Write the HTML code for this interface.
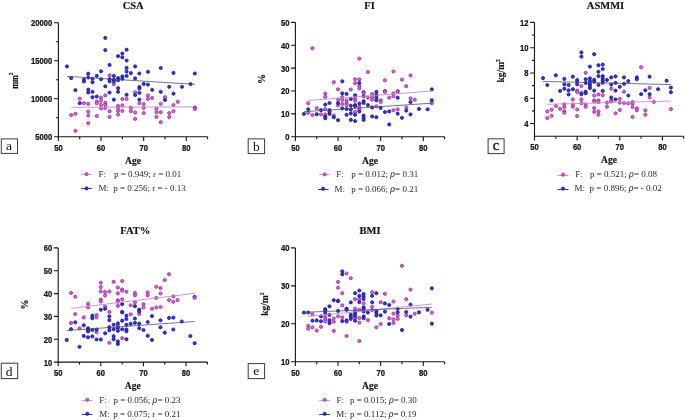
<!DOCTYPE html><html><head><meta charset="utf-8"><style>html,body{margin:0;padding:0;background:#fff;}svg{display:block;filter:blur(0.3px)}.tl{font-family:"Liberation Sans",sans-serif;font-weight:bold;font-size:8.3px;fill:#111;stroke:#111;stroke-width:0.22px}.ti{font-family:"Liberation Serif",serif;font-weight:bold;font-size:10.5px;fill:#111;stroke:#111;stroke-width:0.15px}.lg{font-family:"Liberation Serif",serif;font-size:9px;fill:#2a2a2a}.bx{font-family:"Liberation Serif",serif;font-size:13.5px;fill:#111}</style></head><body><svg width="685" height="420" viewBox="0 0 685 420"><circle cx="109.56" cy="75.30" r="1.6" fill="#e05ee0" stroke="#8e2a8e" stroke-width="0.75"/><circle cx="113.82" cy="84.30" r="1.6" fill="#e05ee0" stroke="#8e2a8e" stroke-width="0.75"/><circle cx="79.72" cy="98.70" r="1.6" fill="#e05ee0" stroke="#8e2a8e" stroke-width="0.75"/><circle cx="83.98" cy="103.20" r="1.6" fill="#e05ee0" stroke="#8e2a8e" stroke-width="0.75"/><circle cx="88.24" cy="103.80" r="1.6" fill="#e05ee0" stroke="#8e2a8e" stroke-width="0.75"/><circle cx="101.03" cy="97.60" r="1.6" fill="#e05ee0" stroke="#8e2a8e" stroke-width="0.75"/><circle cx="105.29" cy="95.40" r="1.6" fill="#e05ee0" stroke="#8e2a8e" stroke-width="0.75"/><circle cx="96.77" cy="101.60" r="1.6" fill="#e05ee0" stroke="#8e2a8e" stroke-width="0.75"/><circle cx="96.77" cy="103.20" r="1.6" fill="#e05ee0" stroke="#8e2a8e" stroke-width="0.75"/><circle cx="101.03" cy="100.60" r="1.6" fill="#e05ee0" stroke="#8e2a8e" stroke-width="0.75"/><circle cx="101.03" cy="104.90" r="1.6" fill="#e05ee0" stroke="#8e2a8e" stroke-width="0.75"/><circle cx="101.03" cy="108.40" r="1.6" fill="#e05ee0" stroke="#8e2a8e" stroke-width="0.75"/><circle cx="105.29" cy="102.70" r="1.6" fill="#e05ee0" stroke="#8e2a8e" stroke-width="0.75"/><circle cx="105.29" cy="104.90" r="1.6" fill="#e05ee0" stroke="#8e2a8e" stroke-width="0.75"/><circle cx="105.29" cy="107.90" r="1.6" fill="#e05ee0" stroke="#8e2a8e" stroke-width="0.75"/><circle cx="122.34" cy="99.00" r="1.6" fill="#e05ee0" stroke="#8e2a8e" stroke-width="0.75"/><circle cx="126.61" cy="98.90" r="1.6" fill="#e05ee0" stroke="#8e2a8e" stroke-width="0.75"/><circle cx="96.77" cy="116.00" r="1.6" fill="#e05ee0" stroke="#8e2a8e" stroke-width="0.75"/><circle cx="71.19" cy="115.00" r="1.6" fill="#e05ee0" stroke="#8e2a8e" stroke-width="0.75"/><circle cx="75.45" cy="113.80" r="1.6" fill="#e05ee0" stroke="#8e2a8e" stroke-width="0.75"/><circle cx="75.45" cy="130.90" r="1.6" fill="#e05ee0" stroke="#8e2a8e" stroke-width="0.75"/><circle cx="88.24" cy="111.60" r="1.6" fill="#e05ee0" stroke="#8e2a8e" stroke-width="0.75"/><circle cx="88.24" cy="115.50" r="1.6" fill="#e05ee0" stroke="#8e2a8e" stroke-width="0.75"/><circle cx="88.24" cy="123.20" r="1.6" fill="#e05ee0" stroke="#8e2a8e" stroke-width="0.75"/><circle cx="109.56" cy="111.20" r="1.6" fill="#e05ee0" stroke="#8e2a8e" stroke-width="0.75"/><circle cx="109.56" cy="116.90" r="1.6" fill="#e05ee0" stroke="#8e2a8e" stroke-width="0.75"/><circle cx="118.08" cy="106.00" r="1.6" fill="#e05ee0" stroke="#8e2a8e" stroke-width="0.75"/><circle cx="118.08" cy="107.90" r="1.6" fill="#e05ee0" stroke="#8e2a8e" stroke-width="0.75"/><circle cx="118.08" cy="110.90" r="1.6" fill="#e05ee0" stroke="#8e2a8e" stroke-width="0.75"/><circle cx="118.08" cy="114.50" r="1.6" fill="#e05ee0" stroke="#8e2a8e" stroke-width="0.75"/><circle cx="122.34" cy="105.40" r="1.6" fill="#e05ee0" stroke="#8e2a8e" stroke-width="0.75"/><circle cx="122.34" cy="110.90" r="1.6" fill="#e05ee0" stroke="#8e2a8e" stroke-width="0.75"/><circle cx="130.87" cy="107.60" r="1.6" fill="#e05ee0" stroke="#8e2a8e" stroke-width="0.75"/><circle cx="130.87" cy="111.20" r="1.6" fill="#e05ee0" stroke="#8e2a8e" stroke-width="0.75"/><circle cx="135.13" cy="92.30" r="1.6" fill="#e05ee0" stroke="#8e2a8e" stroke-width="0.75"/><circle cx="147.92" cy="95.40" r="1.6" fill="#e05ee0" stroke="#8e2a8e" stroke-width="0.75"/><circle cx="147.92" cy="99.00" r="1.6" fill="#e05ee0" stroke="#8e2a8e" stroke-width="0.75"/><circle cx="152.19" cy="98.00" r="1.6" fill="#e05ee0" stroke="#8e2a8e" stroke-width="0.75"/><circle cx="164.97" cy="97.20" r="1.6" fill="#e05ee0" stroke="#8e2a8e" stroke-width="0.75"/><circle cx="177.76" cy="101.80" r="1.6" fill="#e05ee0" stroke="#8e2a8e" stroke-width="0.75"/><circle cx="139.40" cy="103.10" r="1.6" fill="#e05ee0" stroke="#8e2a8e" stroke-width="0.75"/><circle cx="143.66" cy="104.00" r="1.6" fill="#e05ee0" stroke="#8e2a8e" stroke-width="0.75"/><circle cx="160.71" cy="103.80" r="1.6" fill="#e05ee0" stroke="#8e2a8e" stroke-width="0.75"/><circle cx="173.50" cy="105.00" r="1.6" fill="#e05ee0" stroke="#8e2a8e" stroke-width="0.75"/><circle cx="135.13" cy="112.50" r="1.6" fill="#e05ee0" stroke="#8e2a8e" stroke-width="0.75"/><circle cx="135.13" cy="118.90" r="1.6" fill="#e05ee0" stroke="#8e2a8e" stroke-width="0.75"/><circle cx="143.66" cy="107.90" r="1.6" fill="#e05ee0" stroke="#8e2a8e" stroke-width="0.75"/><circle cx="143.66" cy="113.10" r="1.6" fill="#e05ee0" stroke="#8e2a8e" stroke-width="0.75"/><circle cx="156.45" cy="108.70" r="1.6" fill="#e05ee0" stroke="#8e2a8e" stroke-width="0.75"/><circle cx="156.45" cy="112.20" r="1.6" fill="#e05ee0" stroke="#8e2a8e" stroke-width="0.75"/><circle cx="156.45" cy="116.90" r="1.6" fill="#e05ee0" stroke="#8e2a8e" stroke-width="0.75"/><circle cx="160.71" cy="112.30" r="1.6" fill="#e05ee0" stroke="#8e2a8e" stroke-width="0.75"/><circle cx="160.71" cy="122.20" r="1.6" fill="#e05ee0" stroke="#8e2a8e" stroke-width="0.75"/><circle cx="169.24" cy="113.10" r="1.6" fill="#e05ee0" stroke="#8e2a8e" stroke-width="0.75"/><circle cx="169.24" cy="117.10" r="1.6" fill="#e05ee0" stroke="#8e2a8e" stroke-width="0.75"/><circle cx="173.50" cy="111.20" r="1.6" fill="#e05ee0" stroke="#8e2a8e" stroke-width="0.75"/><circle cx="105.29" cy="37.90" r="1.6" fill="#3434e4" stroke="#16167a" stroke-width="0.75"/><circle cx="105.29" cy="50.10" r="1.6" fill="#3434e4" stroke="#16167a" stroke-width="0.75"/><circle cx="126.61" cy="49.70" r="1.6" fill="#3434e4" stroke="#16167a" stroke-width="0.75"/><circle cx="118.08" cy="56.10" r="1.6" fill="#3434e4" stroke="#16167a" stroke-width="0.75"/><circle cx="122.34" cy="53.50" r="1.6" fill="#3434e4" stroke="#16167a" stroke-width="0.75"/><circle cx="122.34" cy="57.30" r="1.6" fill="#3434e4" stroke="#16167a" stroke-width="0.75"/><circle cx="126.61" cy="60.50" r="1.6" fill="#3434e4" stroke="#16167a" stroke-width="0.75"/><circle cx="109.56" cy="64.90" r="1.6" fill="#3434e4" stroke="#16167a" stroke-width="0.75"/><circle cx="66.93" cy="66.40" r="1.6" fill="#3434e4" stroke="#16167a" stroke-width="0.75"/><circle cx="101.03" cy="71.30" r="1.6" fill="#3434e4" stroke="#16167a" stroke-width="0.75"/><circle cx="126.61" cy="67.90" r="1.6" fill="#3434e4" stroke="#16167a" stroke-width="0.75"/><circle cx="126.61" cy="71.50" r="1.6" fill="#3434e4" stroke="#16167a" stroke-width="0.75"/><circle cx="88.24" cy="73.70" r="1.6" fill="#3434e4" stroke="#16167a" stroke-width="0.75"/><circle cx="130.87" cy="73.10" r="1.6" fill="#3434e4" stroke="#16167a" stroke-width="0.75"/><circle cx="71.19" cy="78.10" r="1.6" fill="#3434e4" stroke="#16167a" stroke-width="0.75"/><circle cx="75.45" cy="90.10" r="1.6" fill="#3434e4" stroke="#16167a" stroke-width="0.75"/><circle cx="83.98" cy="79.50" r="1.6" fill="#3434e4" stroke="#16167a" stroke-width="0.75"/><circle cx="83.98" cy="81.50" r="1.6" fill="#3434e4" stroke="#16167a" stroke-width="0.75"/><circle cx="88.24" cy="77.50" r="1.6" fill="#3434e4" stroke="#16167a" stroke-width="0.75"/><circle cx="88.24" cy="89.60" r="1.6" fill="#3434e4" stroke="#16167a" stroke-width="0.75"/><circle cx="88.24" cy="92.50" r="1.6" fill="#3434e4" stroke="#16167a" stroke-width="0.75"/><circle cx="92.50" cy="78.80" r="1.6" fill="#3434e4" stroke="#16167a" stroke-width="0.75"/><circle cx="92.50" cy="82.20" r="1.6" fill="#3434e4" stroke="#16167a" stroke-width="0.75"/><circle cx="92.50" cy="91.80" r="1.6" fill="#3434e4" stroke="#16167a" stroke-width="0.75"/><circle cx="92.50" cy="97.20" r="1.6" fill="#3434e4" stroke="#16167a" stroke-width="0.75"/><circle cx="96.77" cy="75.90" r="1.6" fill="#3434e4" stroke="#16167a" stroke-width="0.75"/><circle cx="96.77" cy="96.50" r="1.6" fill="#3434e4" stroke="#16167a" stroke-width="0.75"/><circle cx="101.03" cy="79.20" r="1.6" fill="#3434e4" stroke="#16167a" stroke-width="0.75"/><circle cx="105.29" cy="86.30" r="1.6" fill="#3434e4" stroke="#16167a" stroke-width="0.75"/><circle cx="109.56" cy="79.20" r="1.6" fill="#3434e4" stroke="#16167a" stroke-width="0.75"/><circle cx="109.56" cy="81.40" r="1.6" fill="#3434e4" stroke="#16167a" stroke-width="0.75"/><circle cx="109.56" cy="92.60" r="1.6" fill="#3434e4" stroke="#16167a" stroke-width="0.75"/><circle cx="113.82" cy="75.90" r="1.6" fill="#3434e4" stroke="#16167a" stroke-width="0.75"/><circle cx="113.82" cy="79.70" r="1.6" fill="#3434e4" stroke="#16167a" stroke-width="0.75"/><circle cx="113.82" cy="81.40" r="1.6" fill="#3434e4" stroke="#16167a" stroke-width="0.75"/><circle cx="113.82" cy="99.70" r="1.6" fill="#3434e4" stroke="#16167a" stroke-width="0.75"/><circle cx="118.08" cy="78.10" r="1.6" fill="#3434e4" stroke="#16167a" stroke-width="0.75"/><circle cx="118.08" cy="80.30" r="1.6" fill="#3434e4" stroke="#16167a" stroke-width="0.75"/><circle cx="118.08" cy="88.20" r="1.6" fill="#3434e4" stroke="#16167a" stroke-width="0.75"/><circle cx="118.08" cy="91.80" r="1.6" fill="#3434e4" stroke="#16167a" stroke-width="0.75"/><circle cx="122.34" cy="76.40" r="1.6" fill="#3434e4" stroke="#16167a" stroke-width="0.75"/><circle cx="122.34" cy="78.80" r="1.6" fill="#3434e4" stroke="#16167a" stroke-width="0.75"/><circle cx="126.61" cy="75.90" r="1.6" fill="#3434e4" stroke="#16167a" stroke-width="0.75"/><circle cx="126.61" cy="94.80" r="1.6" fill="#3434e4" stroke="#16167a" stroke-width="0.75"/><circle cx="79.72" cy="103.20" r="1.6" fill="#3434e4" stroke="#16167a" stroke-width="0.75"/><circle cx="135.13" cy="66.40" r="1.6" fill="#3434e4" stroke="#16167a" stroke-width="0.75"/><circle cx="135.13" cy="78.40" r="1.6" fill="#3434e4" stroke="#16167a" stroke-width="0.75"/><circle cx="139.40" cy="73.50" r="1.6" fill="#3434e4" stroke="#16167a" stroke-width="0.75"/><circle cx="139.40" cy="87.00" r="1.6" fill="#3434e4" stroke="#16167a" stroke-width="0.75"/><circle cx="139.40" cy="88.50" r="1.6" fill="#3434e4" stroke="#16167a" stroke-width="0.75"/><circle cx="139.40" cy="92.80" r="1.6" fill="#3434e4" stroke="#16167a" stroke-width="0.75"/><circle cx="139.40" cy="99.60" r="1.6" fill="#3434e4" stroke="#16167a" stroke-width="0.75"/><circle cx="135.13" cy="95.00" r="1.6" fill="#3434e4" stroke="#16167a" stroke-width="0.75"/><circle cx="143.66" cy="83.90" r="1.6" fill="#3434e4" stroke="#16167a" stroke-width="0.75"/><circle cx="147.92" cy="71.80" r="1.6" fill="#3434e4" stroke="#16167a" stroke-width="0.75"/><circle cx="147.92" cy="84.60" r="1.6" fill="#3434e4" stroke="#16167a" stroke-width="0.75"/><circle cx="152.19" cy="89.80" r="1.6" fill="#3434e4" stroke="#16167a" stroke-width="0.75"/><circle cx="160.71" cy="68.00" r="1.6" fill="#3434e4" stroke="#16167a" stroke-width="0.75"/><circle cx="160.71" cy="91.80" r="1.6" fill="#3434e4" stroke="#16167a" stroke-width="0.75"/><circle cx="164.97" cy="100.00" r="1.6" fill="#3434e4" stroke="#16167a" stroke-width="0.75"/><circle cx="169.24" cy="86.80" r="1.6" fill="#3434e4" stroke="#16167a" stroke-width="0.75"/><circle cx="173.50" cy="72.90" r="1.6" fill="#3434e4" stroke="#16167a" stroke-width="0.75"/><circle cx="173.50" cy="93.70" r="1.6" fill="#3434e4" stroke="#16167a" stroke-width="0.75"/><circle cx="182.03" cy="86.80" r="1.6" fill="#3434e4" stroke="#16167a" stroke-width="0.75"/><circle cx="190.55" cy="84.10" r="1.6" fill="#3434e4" stroke="#16167a" stroke-width="0.75"/><circle cx="194.82" cy="73.50" r="1.6" fill="#3434e4" stroke="#16167a" stroke-width="0.75"/><circle cx="194.82" cy="107.60" r="1.6" fill="#3434e4" stroke="#16167a" stroke-width="0.75"/><circle cx="194.82" cy="109.00" r="1.6" fill="#e05ee0" stroke="#8e2a8e" stroke-width="0.75"/><line x1="71.19" y1="107.3" x2="194.82" y2="106.9" stroke="#c98ac9" stroke-width="0.9"/><line x1="66.93" y1="76.4" x2="194.82" y2="84.3" stroke="#45456f" stroke-width="0.75"/><path d="M58.40 22.70V136.70H207.60" fill="none" stroke="#141414" stroke-width="1.1"/><text class="tl" transform="translate(52.30,140.20) scale(0.92,1)" text-anchor="end">5000</text><text class="tl" transform="translate(52.30,102.20) scale(0.92,1)" text-anchor="end">10000</text><text class="tl" transform="translate(52.30,64.20) scale(0.92,1)" text-anchor="end">15000</text><text class="tl" transform="translate(52.30,26.20) scale(0.92,1)" text-anchor="end">20000</text><text class="tl" transform="translate(58.40,150.50) scale(0.92,1)" text-anchor="middle">50</text><text class="tl" transform="translate(101.03,150.50) scale(0.92,1)" text-anchor="middle">60</text><text class="tl" transform="translate(143.66,150.50) scale(0.92,1)" text-anchor="middle">70</text><text class="tl" transform="translate(186.29,150.50) scale(0.92,1)" text-anchor="middle">80</text><path d="M54.10 136.70H58.40M55.90 117.70H58.40M54.10 98.70H58.40M55.90 79.70H58.40M54.10 60.70H58.40M55.90 41.70H58.40M54.10 22.70H58.40M58.40 136.70V140.90M79.72 136.70V139.20M101.03 136.70V140.90M122.34 136.70V139.20M143.66 136.70V140.90M164.97 136.70V139.20M186.29 136.70V140.90M207.60 136.70V139.20" fill="none" stroke="#141414" stroke-width="1.1"/><text class="ti" x="133.2" y="8.9" text-anchor="middle">CSA</text><text class="ti" x="133.00" y="163.70" text-anchor="middle" style="font-size:9.6px">Age</text><rect x="1.30" y="138.90" width="16.20" height="14.50" fill="none" stroke="#3a3a3a" stroke-width="1"/><text class="bx" x="8.90" y="149.90" text-anchor="middle">a</text><circle cx="312.45" cy="48.20" r="1.6" fill="#e05ee0" stroke="#8e2a8e" stroke-width="0.75"/><circle cx="359.34" cy="58.60" r="1.6" fill="#e05ee0" stroke="#8e2a8e" stroke-width="0.75"/><circle cx="367.87" cy="72.00" r="1.6" fill="#e05ee0" stroke="#8e2a8e" stroke-width="0.75"/><circle cx="333.77" cy="82.20" r="1.6" fill="#e05ee0" stroke="#8e2a8e" stroke-width="0.75"/><circle cx="355.08" cy="79.30" r="1.6" fill="#e05ee0" stroke="#8e2a8e" stroke-width="0.75"/><circle cx="355.08" cy="83.20" r="1.6" fill="#e05ee0" stroke="#8e2a8e" stroke-width="0.75"/><circle cx="359.34" cy="79.30" r="1.6" fill="#e05ee0" stroke="#8e2a8e" stroke-width="0.75"/><circle cx="359.34" cy="85.90" r="1.6" fill="#e05ee0" stroke="#8e2a8e" stroke-width="0.75"/><circle cx="359.34" cy="88.40" r="1.6" fill="#e05ee0" stroke="#8e2a8e" stroke-width="0.75"/><circle cx="338.03" cy="89.30" r="1.6" fill="#e05ee0" stroke="#8e2a8e" stroke-width="0.75"/><circle cx="350.82" cy="89.50" r="1.6" fill="#e05ee0" stroke="#8e2a8e" stroke-width="0.75"/><circle cx="325.24" cy="93.50" r="1.6" fill="#e05ee0" stroke="#8e2a8e" stroke-width="0.75"/><circle cx="325.24" cy="96.80" r="1.6" fill="#e05ee0" stroke="#8e2a8e" stroke-width="0.75"/><circle cx="367.87" cy="97.70" r="1.6" fill="#e05ee0" stroke="#8e2a8e" stroke-width="0.75"/><circle cx="342.29" cy="97.20" r="1.6" fill="#e05ee0" stroke="#8e2a8e" stroke-width="0.75"/><circle cx="338.03" cy="99.50" r="1.6" fill="#e05ee0" stroke="#8e2a8e" stroke-width="0.75"/><circle cx="355.08" cy="98.30" r="1.6" fill="#e05ee0" stroke="#8e2a8e" stroke-width="0.75"/><circle cx="308.19" cy="103.30" r="1.6" fill="#e05ee0" stroke="#8e2a8e" stroke-width="0.75"/><circle cx="308.19" cy="112.80" r="1.6" fill="#e05ee0" stroke="#8e2a8e" stroke-width="0.75"/><circle cx="312.45" cy="115.00" r="1.6" fill="#e05ee0" stroke="#8e2a8e" stroke-width="0.75"/><circle cx="316.71" cy="108.20" r="1.6" fill="#e05ee0" stroke="#8e2a8e" stroke-width="0.75"/><circle cx="320.98" cy="114.40" r="1.6" fill="#e05ee0" stroke="#8e2a8e" stroke-width="0.75"/><circle cx="325.24" cy="109.00" r="1.6" fill="#e05ee0" stroke="#8e2a8e" stroke-width="0.75"/><circle cx="325.24" cy="114.40" r="1.6" fill="#e05ee0" stroke="#8e2a8e" stroke-width="0.75"/><circle cx="333.77" cy="115.50" r="1.6" fill="#e05ee0" stroke="#8e2a8e" stroke-width="0.75"/><circle cx="338.03" cy="105.40" r="1.6" fill="#e05ee0" stroke="#8e2a8e" stroke-width="0.75"/><circle cx="342.29" cy="99.90" r="1.6" fill="#e05ee0" stroke="#8e2a8e" stroke-width="0.75"/><circle cx="342.29" cy="104.00" r="1.6" fill="#e05ee0" stroke="#8e2a8e" stroke-width="0.75"/><circle cx="346.56" cy="100.50" r="1.6" fill="#e05ee0" stroke="#8e2a8e" stroke-width="0.75"/><circle cx="346.56" cy="103.00" r="1.6" fill="#e05ee0" stroke="#8e2a8e" stroke-width="0.75"/><circle cx="346.56" cy="105.10" r="1.6" fill="#e05ee0" stroke="#8e2a8e" stroke-width="0.75"/><circle cx="355.08" cy="100.80" r="1.6" fill="#e05ee0" stroke="#8e2a8e" stroke-width="0.75"/><circle cx="355.08" cy="111.90" r="1.6" fill="#e05ee0" stroke="#8e2a8e" stroke-width="0.75"/><circle cx="359.34" cy="106.80" r="1.6" fill="#e05ee0" stroke="#8e2a8e" stroke-width="0.75"/><circle cx="359.34" cy="109.50" r="1.6" fill="#e05ee0" stroke="#8e2a8e" stroke-width="0.75"/><circle cx="393.45" cy="71.50" r="1.6" fill="#e05ee0" stroke="#8e2a8e" stroke-width="0.75"/><circle cx="384.92" cy="80.30" r="1.6" fill="#e05ee0" stroke="#8e2a8e" stroke-width="0.75"/><circle cx="401.97" cy="79.60" r="1.6" fill="#e05ee0" stroke="#8e2a8e" stroke-width="0.75"/><circle cx="410.50" cy="75.40" r="1.6" fill="#e05ee0" stroke="#8e2a8e" stroke-width="0.75"/><circle cx="406.24" cy="86.20" r="1.6" fill="#e05ee0" stroke="#8e2a8e" stroke-width="0.75"/><circle cx="372.13" cy="94.00" r="1.6" fill="#e05ee0" stroke="#8e2a8e" stroke-width="0.75"/><circle cx="372.13" cy="97.00" r="1.6" fill="#e05ee0" stroke="#8e2a8e" stroke-width="0.75"/><circle cx="372.13" cy="99.70" r="1.6" fill="#e05ee0" stroke="#8e2a8e" stroke-width="0.75"/><circle cx="376.40" cy="106.30" r="1.6" fill="#e05ee0" stroke="#8e2a8e" stroke-width="0.75"/><circle cx="380.66" cy="100.30" r="1.6" fill="#e05ee0" stroke="#8e2a8e" stroke-width="0.75"/><circle cx="380.66" cy="101.90" r="1.6" fill="#e05ee0" stroke="#8e2a8e" stroke-width="0.75"/><circle cx="389.19" cy="97.70" r="1.6" fill="#e05ee0" stroke="#8e2a8e" stroke-width="0.75"/><circle cx="393.45" cy="93.40" r="1.6" fill="#e05ee0" stroke="#8e2a8e" stroke-width="0.75"/><circle cx="393.45" cy="96.20" r="1.6" fill="#e05ee0" stroke="#8e2a8e" stroke-width="0.75"/><circle cx="393.45" cy="110.20" r="1.6" fill="#e05ee0" stroke="#8e2a8e" stroke-width="0.75"/><circle cx="397.71" cy="109.30" r="1.6" fill="#e05ee0" stroke="#8e2a8e" stroke-width="0.75"/><circle cx="406.24" cy="107.60" r="1.6" fill="#e05ee0" stroke="#8e2a8e" stroke-width="0.75"/><circle cx="410.50" cy="98.40" r="1.6" fill="#e05ee0" stroke="#8e2a8e" stroke-width="0.75"/><circle cx="414.76" cy="99.70" r="1.6" fill="#e05ee0" stroke="#8e2a8e" stroke-width="0.75"/><circle cx="431.82" cy="103.20" r="1.6" fill="#e05ee0" stroke="#8e2a8e" stroke-width="0.75"/><circle cx="342.29" cy="81.30" r="1.6" fill="#3434e4" stroke="#16167a" stroke-width="0.75"/><circle cx="359.34" cy="82.90" r="1.6" fill="#3434e4" stroke="#16167a" stroke-width="0.75"/><circle cx="342.29" cy="93.40" r="1.6" fill="#3434e4" stroke="#16167a" stroke-width="0.75"/><circle cx="346.56" cy="93.90" r="1.6" fill="#3434e4" stroke="#16167a" stroke-width="0.75"/><circle cx="355.08" cy="95.30" r="1.6" fill="#3434e4" stroke="#16167a" stroke-width="0.75"/><circle cx="363.61" cy="92.20" r="1.6" fill="#3434e4" stroke="#16167a" stroke-width="0.75"/><circle cx="363.61" cy="96.10" r="1.6" fill="#3434e4" stroke="#16167a" stroke-width="0.75"/><circle cx="350.82" cy="98.90" r="1.6" fill="#3434e4" stroke="#16167a" stroke-width="0.75"/><circle cx="363.61" cy="101.20" r="1.6" fill="#3434e4" stroke="#16167a" stroke-width="0.75"/><circle cx="303.93" cy="113.90" r="1.6" fill="#3434e4" stroke="#16167a" stroke-width="0.75"/><circle cx="308.19" cy="109.30" r="1.6" fill="#3434e4" stroke="#16167a" stroke-width="0.75"/><circle cx="316.71" cy="114.20" r="1.6" fill="#3434e4" stroke="#16167a" stroke-width="0.75"/><circle cx="320.98" cy="110.10" r="1.6" fill="#3434e4" stroke="#16167a" stroke-width="0.75"/><circle cx="325.24" cy="104.60" r="1.6" fill="#3434e4" stroke="#16167a" stroke-width="0.75"/><circle cx="325.24" cy="116.60" r="1.6" fill="#3434e4" stroke="#16167a" stroke-width="0.75"/><circle cx="325.24" cy="118.30" r="1.6" fill="#3434e4" stroke="#16167a" stroke-width="0.75"/><circle cx="329.50" cy="103.00" r="1.6" fill="#3434e4" stroke="#16167a" stroke-width="0.75"/><circle cx="329.50" cy="110.10" r="1.6" fill="#3434e4" stroke="#16167a" stroke-width="0.75"/><circle cx="329.50" cy="111.70" r="1.6" fill="#3434e4" stroke="#16167a" stroke-width="0.75"/><circle cx="329.50" cy="113.90" r="1.6" fill="#3434e4" stroke="#16167a" stroke-width="0.75"/><circle cx="333.77" cy="117.20" r="1.6" fill="#3434e4" stroke="#16167a" stroke-width="0.75"/><circle cx="338.03" cy="103.00" r="1.6" fill="#3434e4" stroke="#16167a" stroke-width="0.75"/><circle cx="338.03" cy="120.20" r="1.6" fill="#3434e4" stroke="#16167a" stroke-width="0.75"/><circle cx="342.29" cy="108.40" r="1.6" fill="#3434e4" stroke="#16167a" stroke-width="0.75"/><circle cx="346.56" cy="109.00" r="1.6" fill="#3434e4" stroke="#16167a" stroke-width="0.75"/><circle cx="346.56" cy="114.80" r="1.6" fill="#3434e4" stroke="#16167a" stroke-width="0.75"/><circle cx="350.82" cy="105.70" r="1.6" fill="#3434e4" stroke="#16167a" stroke-width="0.75"/><circle cx="350.82" cy="109.50" r="1.6" fill="#3434e4" stroke="#16167a" stroke-width="0.75"/><circle cx="350.82" cy="113.40" r="1.6" fill="#3434e4" stroke="#16167a" stroke-width="0.75"/><circle cx="350.82" cy="119.90" r="1.6" fill="#3434e4" stroke="#16167a" stroke-width="0.75"/><circle cx="355.08" cy="105.10" r="1.6" fill="#3434e4" stroke="#16167a" stroke-width="0.75"/><circle cx="355.08" cy="106.20" r="1.6" fill="#3434e4" stroke="#16167a" stroke-width="0.75"/><circle cx="355.08" cy="114.80" r="1.6" fill="#3434e4" stroke="#16167a" stroke-width="0.75"/><circle cx="355.08" cy="121.00" r="1.6" fill="#3434e4" stroke="#16167a" stroke-width="0.75"/><circle cx="359.34" cy="103.50" r="1.6" fill="#3434e4" stroke="#16167a" stroke-width="0.75"/><circle cx="359.34" cy="111.50" r="1.6" fill="#3434e4" stroke="#16167a" stroke-width="0.75"/><circle cx="363.61" cy="103.00" r="1.6" fill="#3434e4" stroke="#16167a" stroke-width="0.75"/><circle cx="363.61" cy="115.50" r="1.6" fill="#3434e4" stroke="#16167a" stroke-width="0.75"/><circle cx="363.61" cy="117.70" r="1.6" fill="#3434e4" stroke="#16167a" stroke-width="0.75"/><circle cx="363.61" cy="119.90" r="1.6" fill="#3434e4" stroke="#16167a" stroke-width="0.75"/><circle cx="367.87" cy="105.10" r="1.6" fill="#3434e4" stroke="#16167a" stroke-width="0.75"/><circle cx="372.13" cy="107.40" r="1.6" fill="#3434e4" stroke="#16167a" stroke-width="0.75"/><circle cx="372.13" cy="116.40" r="1.6" fill="#3434e4" stroke="#16167a" stroke-width="0.75"/><circle cx="376.40" cy="91.80" r="1.6" fill="#3434e4" stroke="#16167a" stroke-width="0.75"/><circle cx="376.40" cy="94.80" r="1.6" fill="#3434e4" stroke="#16167a" stroke-width="0.75"/><circle cx="376.40" cy="97.50" r="1.6" fill="#3434e4" stroke="#16167a" stroke-width="0.75"/><circle cx="376.40" cy="100.30" r="1.6" fill="#3434e4" stroke="#16167a" stroke-width="0.75"/><circle cx="376.40" cy="117.20" r="1.6" fill="#3434e4" stroke="#16167a" stroke-width="0.75"/><circle cx="380.66" cy="107.90" r="1.6" fill="#3434e4" stroke="#16167a" stroke-width="0.75"/><circle cx="384.92" cy="112.00" r="1.6" fill="#3434e4" stroke="#16167a" stroke-width="0.75"/><circle cx="389.19" cy="111.40" r="1.6" fill="#3434e4" stroke="#16167a" stroke-width="0.75"/><circle cx="389.19" cy="124.40" r="1.6" fill="#3434e4" stroke="#16167a" stroke-width="0.75"/><circle cx="397.71" cy="97.70" r="1.6" fill="#3434e4" stroke="#16167a" stroke-width="0.75"/><circle cx="397.71" cy="113.70" r="1.6" fill="#3434e4" stroke="#16167a" stroke-width="0.75"/><circle cx="401.97" cy="117.80" r="1.6" fill="#3434e4" stroke="#16167a" stroke-width="0.75"/><circle cx="406.24" cy="110.60" r="1.6" fill="#3434e4" stroke="#16167a" stroke-width="0.75"/><circle cx="410.50" cy="102.10" r="1.6" fill="#3434e4" stroke="#16167a" stroke-width="0.75"/><circle cx="410.50" cy="114.40" r="1.6" fill="#3434e4" stroke="#16167a" stroke-width="0.75"/><circle cx="419.03" cy="108.90" r="1.6" fill="#3434e4" stroke="#16167a" stroke-width="0.75"/><circle cx="427.55" cy="109.30" r="1.6" fill="#3434e4" stroke="#16167a" stroke-width="0.75"/><circle cx="431.82" cy="89.30" r="1.6" fill="#3434e4" stroke="#16167a" stroke-width="0.75"/><circle cx="431.82" cy="100.30" r="1.6" fill="#3434e4" stroke="#16167a" stroke-width="0.75"/><circle cx="384.92" cy="91.20" r="1.6" fill="#3434e4" stroke="#16167a" stroke-width="0.75"/><circle cx="397.71" cy="91.30" r="1.6" fill="#3434e4" stroke="#16167a" stroke-width="0.75"/><circle cx="363.61" cy="93.10" r="1.6" fill="#e05ee0" stroke="#8e2a8e" stroke-width="0.75"/><circle cx="384.92" cy="91.80" r="1.6" fill="#e05ee0" stroke="#8e2a8e" stroke-width="0.75"/><circle cx="397.71" cy="91.80" r="1.6" fill="#e05ee0" stroke="#8e2a8e" stroke-width="0.75"/><line x1="308.19" y1="100.5" x2="431.82" y2="91.0" stroke="#c98ac9" stroke-width="0.9"/><line x1="303.93" y1="111.7" x2="431.82" y2="103.2" stroke="#45456f" stroke-width="0.75"/><path d="M295.40 22.40V136.70H444.60" fill="none" stroke="#141414" stroke-width="1.1"/><text class="tl" transform="translate(289.50,140.20) scale(0.92,1)" text-anchor="end">0</text><text class="tl" transform="translate(289.50,117.34) scale(0.92,1)" text-anchor="end">10</text><text class="tl" transform="translate(289.50,94.48) scale(0.92,1)" text-anchor="end">20</text><text class="tl" transform="translate(289.50,71.62) scale(0.92,1)" text-anchor="end">30</text><text class="tl" transform="translate(289.50,48.76) scale(0.92,1)" text-anchor="end">40</text><text class="tl" transform="translate(289.50,25.90) scale(0.92,1)" text-anchor="end">50</text><text class="tl" transform="translate(295.40,150.50) scale(0.92,1)" text-anchor="middle">50</text><text class="tl" transform="translate(338.03,150.50) scale(0.92,1)" text-anchor="middle">60</text><text class="tl" transform="translate(380.66,150.50) scale(0.92,1)" text-anchor="middle">70</text><text class="tl" transform="translate(423.29,150.50) scale(0.92,1)" text-anchor="middle">80</text><path d="M291.10 136.70H295.40M291.10 113.84H295.40M291.10 90.98H295.40M291.10 68.12H295.40M291.10 45.26H295.40M291.10 22.40H295.40M295.40 136.70V140.90M316.71 136.70V139.20M338.03 136.70V140.90M359.34 136.70V139.20M380.66 136.70V140.90M401.97 136.70V139.20M423.29 136.70V140.90M444.60 136.70V139.20" fill="none" stroke="#141414" stroke-width="1.1"/><text class="ti" x="369.6" y="8.9" text-anchor="middle">FI</text><text class="ti" x="370.00" y="163.70" text-anchor="middle" style="font-size:9.6px">Age</text><rect x="248.20" y="138.90" width="16.40" height="14.70" fill="none" stroke="#3a3a3a" stroke-width="1"/><text class="bx" x="256.40" y="151.30" text-anchor="middle">b</text><circle cx="585.66" cy="72.80" r="1.6" fill="#e05ee0" stroke="#8e2a8e" stroke-width="0.75"/><circle cx="577.13" cy="81.60" r="1.6" fill="#e05ee0" stroke="#8e2a8e" stroke-width="0.75"/><circle cx="581.39" cy="86.00" r="1.6" fill="#e05ee0" stroke="#8e2a8e" stroke-width="0.75"/><circle cx="547.29" cy="111.40" r="1.6" fill="#e05ee0" stroke="#8e2a8e" stroke-width="0.75"/><circle cx="547.29" cy="118.00" r="1.6" fill="#e05ee0" stroke="#8e2a8e" stroke-width="0.75"/><circle cx="551.55" cy="109.80" r="1.6" fill="#e05ee0" stroke="#8e2a8e" stroke-width="0.75"/><circle cx="551.55" cy="115.80" r="1.6" fill="#e05ee0" stroke="#8e2a8e" stroke-width="0.75"/><circle cx="555.82" cy="105.90" r="1.6" fill="#e05ee0" stroke="#8e2a8e" stroke-width="0.75"/><circle cx="560.08" cy="108.90" r="1.6" fill="#e05ee0" stroke="#8e2a8e" stroke-width="0.75"/><circle cx="564.34" cy="104.30" r="1.6" fill="#e05ee0" stroke="#8e2a8e" stroke-width="0.75"/><circle cx="564.34" cy="107.00" r="1.6" fill="#e05ee0" stroke="#8e2a8e" stroke-width="0.75"/><circle cx="564.34" cy="111.20" r="1.6" fill="#e05ee0" stroke="#8e2a8e" stroke-width="0.75"/><circle cx="564.34" cy="112.70" r="1.6" fill="#e05ee0" stroke="#8e2a8e" stroke-width="0.75"/><circle cx="572.87" cy="99.40" r="1.6" fill="#e05ee0" stroke="#8e2a8e" stroke-width="0.75"/><circle cx="572.87" cy="104.50" r="1.6" fill="#e05ee0" stroke="#8e2a8e" stroke-width="0.75"/><circle cx="572.87" cy="106.70" r="1.6" fill="#e05ee0" stroke="#8e2a8e" stroke-width="0.75"/><circle cx="577.13" cy="90.60" r="1.6" fill="#e05ee0" stroke="#8e2a8e" stroke-width="0.75"/><circle cx="577.13" cy="92.00" r="1.6" fill="#e05ee0" stroke="#8e2a8e" stroke-width="0.75"/><circle cx="577.13" cy="109.50" r="1.6" fill="#e05ee0" stroke="#8e2a8e" stroke-width="0.75"/><circle cx="577.13" cy="116.10" r="1.6" fill="#e05ee0" stroke="#8e2a8e" stroke-width="0.75"/><circle cx="581.39" cy="92.80" r="1.6" fill="#e05ee0" stroke="#8e2a8e" stroke-width="0.75"/><circle cx="581.39" cy="99.40" r="1.6" fill="#e05ee0" stroke="#8e2a8e" stroke-width="0.75"/><circle cx="581.39" cy="103.20" r="1.6" fill="#e05ee0" stroke="#8e2a8e" stroke-width="0.75"/><circle cx="585.66" cy="104.40" r="1.6" fill="#e05ee0" stroke="#8e2a8e" stroke-width="0.75"/><circle cx="585.66" cy="106.70" r="1.6" fill="#e05ee0" stroke="#8e2a8e" stroke-width="0.75"/><circle cx="594.18" cy="95.50" r="1.6" fill="#e05ee0" stroke="#8e2a8e" stroke-width="0.75"/><circle cx="594.18" cy="100.40" r="1.6" fill="#e05ee0" stroke="#8e2a8e" stroke-width="0.75"/><circle cx="594.18" cy="101.50" r="1.6" fill="#e05ee0" stroke="#8e2a8e" stroke-width="0.75"/><circle cx="594.18" cy="108.10" r="1.6" fill="#e05ee0" stroke="#8e2a8e" stroke-width="0.75"/><circle cx="594.18" cy="111.90" r="1.6" fill="#e05ee0" stroke="#8e2a8e" stroke-width="0.75"/><circle cx="598.45" cy="94.40" r="1.6" fill="#e05ee0" stroke="#8e2a8e" stroke-width="0.75"/><circle cx="598.45" cy="100.40" r="1.6" fill="#e05ee0" stroke="#8e2a8e" stroke-width="0.75"/><circle cx="598.45" cy="102.10" r="1.6" fill="#e05ee0" stroke="#8e2a8e" stroke-width="0.75"/><circle cx="598.45" cy="111.40" r="1.6" fill="#e05ee0" stroke="#8e2a8e" stroke-width="0.75"/><circle cx="598.45" cy="114.70" r="1.6" fill="#e05ee0" stroke="#8e2a8e" stroke-width="0.75"/><circle cx="602.71" cy="95.30" r="1.6" fill="#e05ee0" stroke="#8e2a8e" stroke-width="0.75"/><circle cx="606.97" cy="102.60" r="1.6" fill="#e05ee0" stroke="#8e2a8e" stroke-width="0.75"/><circle cx="606.97" cy="106.70" r="1.6" fill="#e05ee0" stroke="#8e2a8e" stroke-width="0.75"/><circle cx="641.08" cy="67.20" r="1.6" fill="#e05ee0" stroke="#8e2a8e" stroke-width="0.75"/><circle cx="611.23" cy="88.70" r="1.6" fill="#e05ee0" stroke="#8e2a8e" stroke-width="0.75"/><circle cx="611.23" cy="100.40" r="1.6" fill="#e05ee0" stroke="#8e2a8e" stroke-width="0.75"/><circle cx="611.23" cy="101.50" r="1.6" fill="#e05ee0" stroke="#8e2a8e" stroke-width="0.75"/><circle cx="615.50" cy="113.30" r="1.6" fill="#e05ee0" stroke="#8e2a8e" stroke-width="0.75"/><circle cx="619.76" cy="98.80" r="1.6" fill="#e05ee0" stroke="#8e2a8e" stroke-width="0.75"/><circle cx="619.76" cy="102.60" r="1.6" fill="#e05ee0" stroke="#8e2a8e" stroke-width="0.75"/><circle cx="619.76" cy="110.00" r="1.6" fill="#e05ee0" stroke="#8e2a8e" stroke-width="0.75"/><circle cx="624.02" cy="91.70" r="1.6" fill="#e05ee0" stroke="#8e2a8e" stroke-width="0.75"/><circle cx="624.02" cy="103.00" r="1.6" fill="#e05ee0" stroke="#8e2a8e" stroke-width="0.75"/><circle cx="628.29" cy="103.40" r="1.6" fill="#e05ee0" stroke="#8e2a8e" stroke-width="0.75"/><circle cx="632.55" cy="102.10" r="1.6" fill="#e05ee0" stroke="#8e2a8e" stroke-width="0.75"/><circle cx="632.55" cy="103.70" r="1.6" fill="#e05ee0" stroke="#8e2a8e" stroke-width="0.75"/><circle cx="632.55" cy="107.00" r="1.6" fill="#e05ee0" stroke="#8e2a8e" stroke-width="0.75"/><circle cx="632.55" cy="116.90" r="1.6" fill="#e05ee0" stroke="#8e2a8e" stroke-width="0.75"/><circle cx="636.81" cy="108.40" r="1.6" fill="#e05ee0" stroke="#8e2a8e" stroke-width="0.75"/><circle cx="636.81" cy="110.30" r="1.6" fill="#e05ee0" stroke="#8e2a8e" stroke-width="0.75"/><circle cx="645.34" cy="110.30" r="1.6" fill="#e05ee0" stroke="#8e2a8e" stroke-width="0.75"/><circle cx="645.34" cy="114.70" r="1.6" fill="#e05ee0" stroke="#8e2a8e" stroke-width="0.75"/><circle cx="649.60" cy="87.90" r="1.6" fill="#e05ee0" stroke="#8e2a8e" stroke-width="0.75"/><circle cx="649.60" cy="97.50" r="1.6" fill="#e05ee0" stroke="#8e2a8e" stroke-width="0.75"/><circle cx="653.86" cy="101.90" r="1.6" fill="#e05ee0" stroke="#8e2a8e" stroke-width="0.75"/><circle cx="670.92" cy="109.20" r="1.6" fill="#e05ee0" stroke="#8e2a8e" stroke-width="0.75"/><circle cx="543.03" cy="78.10" r="1.6" fill="#3434e4" stroke="#16167a" stroke-width="0.75"/><circle cx="547.29" cy="85.00" r="1.6" fill="#3434e4" stroke="#16167a" stroke-width="0.75"/><circle cx="555.82" cy="75.30" r="1.6" fill="#3434e4" stroke="#16167a" stroke-width="0.75"/><circle cx="564.34" cy="78.90" r="1.6" fill="#3434e4" stroke="#16167a" stroke-width="0.75"/><circle cx="564.34" cy="84.30" r="1.6" fill="#3434e4" stroke="#16167a" stroke-width="0.75"/><circle cx="568.60" cy="85.00" r="1.6" fill="#3434e4" stroke="#16167a" stroke-width="0.75"/><circle cx="572.87" cy="76.70" r="1.6" fill="#3434e4" stroke="#16167a" stroke-width="0.75"/><circle cx="577.13" cy="80.00" r="1.6" fill="#3434e4" stroke="#16167a" stroke-width="0.75"/><circle cx="577.13" cy="84.30" r="1.6" fill="#3434e4" stroke="#16167a" stroke-width="0.75"/><circle cx="581.39" cy="52.40" r="1.6" fill="#3434e4" stroke="#16167a" stroke-width="0.75"/><circle cx="581.39" cy="56.60" r="1.6" fill="#3434e4" stroke="#16167a" stroke-width="0.75"/><circle cx="585.66" cy="79.20" r="1.6" fill="#3434e4" stroke="#16167a" stroke-width="0.75"/><circle cx="585.66" cy="82.90" r="1.6" fill="#3434e4" stroke="#16167a" stroke-width="0.75"/><circle cx="589.92" cy="66.60" r="1.6" fill="#3434e4" stroke="#16167a" stroke-width="0.75"/><circle cx="589.92" cy="78.30" r="1.6" fill="#3434e4" stroke="#16167a" stroke-width="0.75"/><circle cx="589.92" cy="81.10" r="1.6" fill="#3434e4" stroke="#16167a" stroke-width="0.75"/><circle cx="589.92" cy="83.80" r="1.6" fill="#3434e4" stroke="#16167a" stroke-width="0.75"/><circle cx="589.92" cy="85.70" r="1.6" fill="#3434e4" stroke="#16167a" stroke-width="0.75"/><circle cx="589.92" cy="88.10" r="1.6" fill="#3434e4" stroke="#16167a" stroke-width="0.75"/><circle cx="594.18" cy="54.20" r="1.6" fill="#3434e4" stroke="#16167a" stroke-width="0.75"/><circle cx="594.18" cy="79.80" r="1.6" fill="#3434e4" stroke="#16167a" stroke-width="0.75"/><circle cx="594.18" cy="81.70" r="1.6" fill="#3434e4" stroke="#16167a" stroke-width="0.75"/><circle cx="598.45" cy="65.20" r="1.6" fill="#3434e4" stroke="#16167a" stroke-width="0.75"/><circle cx="598.45" cy="71.80" r="1.6" fill="#3434e4" stroke="#16167a" stroke-width="0.75"/><circle cx="598.45" cy="76.10" r="1.6" fill="#3434e4" stroke="#16167a" stroke-width="0.75"/><circle cx="598.45" cy="84.90" r="1.6" fill="#3434e4" stroke="#16167a" stroke-width="0.75"/><circle cx="602.71" cy="64.60" r="1.6" fill="#3434e4" stroke="#16167a" stroke-width="0.75"/><circle cx="602.71" cy="69.00" r="1.6" fill="#3434e4" stroke="#16167a" stroke-width="0.75"/><circle cx="602.71" cy="76.10" r="1.6" fill="#3434e4" stroke="#16167a" stroke-width="0.75"/><circle cx="602.71" cy="78.30" r="1.6" fill="#3434e4" stroke="#16167a" stroke-width="0.75"/><circle cx="602.71" cy="80.50" r="1.6" fill="#3434e4" stroke="#16167a" stroke-width="0.75"/><circle cx="602.71" cy="82.70" r="1.6" fill="#3434e4" stroke="#16167a" stroke-width="0.75"/><circle cx="606.97" cy="80.00" r="1.6" fill="#3434e4" stroke="#16167a" stroke-width="0.75"/><circle cx="551.55" cy="100.40" r="1.6" fill="#3434e4" stroke="#16167a" stroke-width="0.75"/><circle cx="560.08" cy="90.90" r="1.6" fill="#3434e4" stroke="#16167a" stroke-width="0.75"/><circle cx="564.34" cy="88.70" r="1.6" fill="#3434e4" stroke="#16167a" stroke-width="0.75"/><circle cx="568.60" cy="90.30" r="1.6" fill="#3434e4" stroke="#16167a" stroke-width="0.75"/><circle cx="568.60" cy="94.40" r="1.6" fill="#3434e4" stroke="#16167a" stroke-width="0.75"/><circle cx="572.87" cy="89.20" r="1.6" fill="#3434e4" stroke="#16167a" stroke-width="0.75"/><circle cx="581.39" cy="94.20" r="1.6" fill="#3434e4" stroke="#16167a" stroke-width="0.75"/><circle cx="585.66" cy="91.70" r="1.6" fill="#3434e4" stroke="#16167a" stroke-width="0.75"/><circle cx="585.66" cy="93.30" r="1.6" fill="#3434e4" stroke="#16167a" stroke-width="0.75"/><circle cx="594.18" cy="90.60" r="1.6" fill="#3434e4" stroke="#16167a" stroke-width="0.75"/><circle cx="602.71" cy="90.90" r="1.6" fill="#3434e4" stroke="#16167a" stroke-width="0.75"/><circle cx="611.23" cy="77.40" r="1.6" fill="#3434e4" stroke="#16167a" stroke-width="0.75"/><circle cx="611.23" cy="84.50" r="1.6" fill="#3434e4" stroke="#16167a" stroke-width="0.75"/><circle cx="615.50" cy="76.40" r="1.6" fill="#3434e4" stroke="#16167a" stroke-width="0.75"/><circle cx="615.50" cy="82.90" r="1.6" fill="#3434e4" stroke="#16167a" stroke-width="0.75"/><circle cx="624.02" cy="77.40" r="1.6" fill="#3434e4" stroke="#16167a" stroke-width="0.75"/><circle cx="624.02" cy="83.80" r="1.6" fill="#3434e4" stroke="#16167a" stroke-width="0.75"/><circle cx="628.29" cy="81.10" r="1.6" fill="#3434e4" stroke="#16167a" stroke-width="0.75"/><circle cx="636.81" cy="77.40" r="1.6" fill="#3434e4" stroke="#16167a" stroke-width="0.75"/><circle cx="636.81" cy="79.20" r="1.6" fill="#3434e4" stroke="#16167a" stroke-width="0.75"/><circle cx="649.60" cy="76.70" r="1.6" fill="#3434e4" stroke="#16167a" stroke-width="0.75"/><circle cx="666.65" cy="80.70" r="1.6" fill="#3434e4" stroke="#16167a" stroke-width="0.75"/><circle cx="619.76" cy="86.80" r="1.6" fill="#3434e4" stroke="#16167a" stroke-width="0.75"/><circle cx="611.23" cy="97.50" r="1.6" fill="#3434e4" stroke="#16167a" stroke-width="0.75"/><circle cx="615.50" cy="90.60" r="1.6" fill="#3434e4" stroke="#16167a" stroke-width="0.75"/><circle cx="615.50" cy="99.40" r="1.6" fill="#3434e4" stroke="#16167a" stroke-width="0.75"/><circle cx="628.29" cy="95.50" r="1.6" fill="#3434e4" stroke="#16167a" stroke-width="0.75"/><circle cx="641.08" cy="94.20" r="1.6" fill="#3434e4" stroke="#16167a" stroke-width="0.75"/><circle cx="645.34" cy="90.30" r="1.6" fill="#3434e4" stroke="#16167a" stroke-width="0.75"/><circle cx="649.60" cy="94.20" r="1.6" fill="#3434e4" stroke="#16167a" stroke-width="0.75"/><circle cx="658.13" cy="89.20" r="1.6" fill="#3434e4" stroke="#16167a" stroke-width="0.75"/><circle cx="670.92" cy="87.60" r="1.6" fill="#3434e4" stroke="#16167a" stroke-width="0.75"/><circle cx="670.92" cy="92.20" r="1.6" fill="#3434e4" stroke="#16167a" stroke-width="0.75"/><line x1="547.29" y1="104.3" x2="670.92" y2="101.0" stroke="#c98ac9" stroke-width="0.9"/><line x1="543.03" y1="81.4" x2="670.92" y2="84.6" stroke="#45456f" stroke-width="0.75"/><path d="M534.50 22.40V136.20H683.70" fill="none" stroke="#141414" stroke-width="1.1"/><text class="tl" transform="translate(528.60,127.06) scale(0.92,1)" text-anchor="end">4</text><text class="tl" transform="translate(528.60,101.77) scale(0.92,1)" text-anchor="end">6</text><text class="tl" transform="translate(528.60,76.48) scale(0.92,1)" text-anchor="end">8</text><text class="tl" transform="translate(528.60,51.19) scale(0.92,1)" text-anchor="end">10</text><text class="tl" transform="translate(528.60,25.90) scale(0.92,1)" text-anchor="end">12</text><text class="tl" transform="translate(534.50,150.00) scale(0.92,1)" text-anchor="middle">50</text><text class="tl" transform="translate(577.13,150.00) scale(0.92,1)" text-anchor="middle">60</text><text class="tl" transform="translate(619.76,150.00) scale(0.92,1)" text-anchor="middle">70</text><text class="tl" transform="translate(662.39,150.00) scale(0.92,1)" text-anchor="middle">80</text><path d="M530.20 123.56H534.50M532.00 110.91H534.50M530.20 98.27H534.50M532.00 85.62H534.50M530.20 72.98H534.50M532.00 60.33H534.50M530.20 47.69H534.50M532.00 35.04H534.50M530.20 22.40H534.50M534.50 136.20V140.40M555.82 136.20V138.70M577.13 136.20V140.40M598.45 136.20V138.70M619.76 136.20V140.40M641.08 136.20V138.70M662.39 136.20V140.40M683.70 136.20V138.70" fill="none" stroke="#141414" stroke-width="1.1"/><text class="ti" x="605.5" y="8.9" text-anchor="middle">ASMMI</text><text class="ti" x="609.10" y="163.20" text-anchor="middle" style="font-size:9.6px">Age</text><rect x="488.10" y="138.80" width="16.00" height="14.80" fill="none" stroke="#3a3a3a" stroke-width="1"/><text class="bx" x="496.00" y="150.00" text-anchor="middle" style="font-size:14.5px;stroke:#111;stroke-width:0.35px">c</text><circle cx="70.99" cy="292.90" r="1.6" fill="#e05ee0" stroke="#8e2a8e" stroke-width="0.75"/><circle cx="75.25" cy="296.70" r="1.6" fill="#e05ee0" stroke="#8e2a8e" stroke-width="0.75"/><circle cx="100.83" cy="282.70" r="1.6" fill="#e05ee0" stroke="#8e2a8e" stroke-width="0.75"/><circle cx="100.83" cy="287.10" r="1.6" fill="#e05ee0" stroke="#8e2a8e" stroke-width="0.75"/><circle cx="100.83" cy="291.40" r="1.6" fill="#e05ee0" stroke="#8e2a8e" stroke-width="0.75"/><circle cx="100.83" cy="299.50" r="1.6" fill="#e05ee0" stroke="#8e2a8e" stroke-width="0.75"/><circle cx="100.83" cy="301.50" r="1.6" fill="#e05ee0" stroke="#8e2a8e" stroke-width="0.75"/><circle cx="105.09" cy="292.20" r="1.6" fill="#e05ee0" stroke="#8e2a8e" stroke-width="0.75"/><circle cx="105.09" cy="295.60" r="1.6" fill="#e05ee0" stroke="#8e2a8e" stroke-width="0.75"/><circle cx="109.36" cy="291.50" r="1.6" fill="#e05ee0" stroke="#8e2a8e" stroke-width="0.75"/><circle cx="113.62" cy="281.80" r="1.6" fill="#e05ee0" stroke="#8e2a8e" stroke-width="0.75"/><circle cx="117.88" cy="287.50" r="1.6" fill="#e05ee0" stroke="#8e2a8e" stroke-width="0.75"/><circle cx="117.88" cy="293.40" r="1.6" fill="#e05ee0" stroke="#8e2a8e" stroke-width="0.75"/><circle cx="117.88" cy="300.30" r="1.6" fill="#e05ee0" stroke="#8e2a8e" stroke-width="0.75"/><circle cx="117.88" cy="301.80" r="1.6" fill="#e05ee0" stroke="#8e2a8e" stroke-width="0.75"/><circle cx="122.15" cy="281.00" r="1.6" fill="#e05ee0" stroke="#8e2a8e" stroke-width="0.75"/><circle cx="122.15" cy="289.50" r="1.6" fill="#e05ee0" stroke="#8e2a8e" stroke-width="0.75"/><circle cx="122.15" cy="290.60" r="1.6" fill="#e05ee0" stroke="#8e2a8e" stroke-width="0.75"/><circle cx="122.15" cy="299.30" r="1.6" fill="#e05ee0" stroke="#8e2a8e" stroke-width="0.75"/><circle cx="126.41" cy="291.70" r="1.6" fill="#e05ee0" stroke="#8e2a8e" stroke-width="0.75"/><circle cx="70.99" cy="322.90" r="1.6" fill="#e05ee0" stroke="#8e2a8e" stroke-width="0.75"/><circle cx="75.25" cy="314.10" r="1.6" fill="#e05ee0" stroke="#8e2a8e" stroke-width="0.75"/><circle cx="83.78" cy="317.40" r="1.6" fill="#e05ee0" stroke="#8e2a8e" stroke-width="0.75"/><circle cx="88.04" cy="303.70" r="1.6" fill="#e05ee0" stroke="#8e2a8e" stroke-width="0.75"/><circle cx="88.04" cy="307.30" r="1.6" fill="#e05ee0" stroke="#8e2a8e" stroke-width="0.75"/><circle cx="79.52" cy="328.30" r="1.6" fill="#e05ee0" stroke="#8e2a8e" stroke-width="0.75"/><circle cx="96.57" cy="315.00" r="1.6" fill="#e05ee0" stroke="#8e2a8e" stroke-width="0.75"/><circle cx="96.57" cy="317.40" r="1.6" fill="#e05ee0" stroke="#8e2a8e" stroke-width="0.75"/><circle cx="96.57" cy="332.20" r="1.6" fill="#e05ee0" stroke="#8e2a8e" stroke-width="0.75"/><circle cx="105.09" cy="306.60" r="1.6" fill="#e05ee0" stroke="#8e2a8e" stroke-width="0.75"/><circle cx="109.36" cy="311.90" r="1.6" fill="#e05ee0" stroke="#8e2a8e" stroke-width="0.75"/><circle cx="117.88" cy="305.90" r="1.6" fill="#e05ee0" stroke="#8e2a8e" stroke-width="0.75"/><circle cx="117.88" cy="326.00" r="1.6" fill="#e05ee0" stroke="#8e2a8e" stroke-width="0.75"/><circle cx="122.15" cy="311.70" r="1.6" fill="#e05ee0" stroke="#8e2a8e" stroke-width="0.75"/><circle cx="130.67" cy="305.30" r="1.6" fill="#e05ee0" stroke="#8e2a8e" stroke-width="0.75"/><circle cx="130.67" cy="314.30" r="1.6" fill="#e05ee0" stroke="#8e2a8e" stroke-width="0.75"/><circle cx="109.36" cy="342.80" r="1.6" fill="#e05ee0" stroke="#8e2a8e" stroke-width="0.75"/><circle cx="122.15" cy="338.10" r="1.6" fill="#e05ee0" stroke="#8e2a8e" stroke-width="0.75"/><circle cx="134.93" cy="292.80" r="1.6" fill="#e05ee0" stroke="#8e2a8e" stroke-width="0.75"/><circle cx="134.93" cy="295.30" r="1.6" fill="#e05ee0" stroke="#8e2a8e" stroke-width="0.75"/><circle cx="147.72" cy="292.40" r="1.6" fill="#e05ee0" stroke="#8e2a8e" stroke-width="0.75"/><circle cx="147.72" cy="295.30" r="1.6" fill="#e05ee0" stroke="#8e2a8e" stroke-width="0.75"/><circle cx="156.25" cy="286.80" r="1.6" fill="#e05ee0" stroke="#8e2a8e" stroke-width="0.75"/><circle cx="156.25" cy="297.90" r="1.6" fill="#e05ee0" stroke="#8e2a8e" stroke-width="0.75"/><circle cx="160.51" cy="288.10" r="1.6" fill="#e05ee0" stroke="#8e2a8e" stroke-width="0.75"/><circle cx="160.51" cy="293.50" r="1.6" fill="#e05ee0" stroke="#8e2a8e" stroke-width="0.75"/><circle cx="164.78" cy="280.00" r="1.6" fill="#e05ee0" stroke="#8e2a8e" stroke-width="0.75"/><circle cx="169.04" cy="274.20" r="1.6" fill="#e05ee0" stroke="#8e2a8e" stroke-width="0.75"/><circle cx="169.04" cy="300.10" r="1.6" fill="#e05ee0" stroke="#8e2a8e" stroke-width="0.75"/><circle cx="173.30" cy="296.40" r="1.6" fill="#e05ee0" stroke="#8e2a8e" stroke-width="0.75"/><circle cx="177.56" cy="300.10" r="1.6" fill="#e05ee0" stroke="#8e2a8e" stroke-width="0.75"/><circle cx="134.93" cy="302.30" r="1.6" fill="#e05ee0" stroke="#8e2a8e" stroke-width="0.75"/><circle cx="139.20" cy="313.90" r="1.6" fill="#e05ee0" stroke="#8e2a8e" stroke-width="0.75"/><circle cx="143.46" cy="304.20" r="1.6" fill="#e05ee0" stroke="#8e2a8e" stroke-width="0.75"/><circle cx="143.46" cy="307.50" r="1.6" fill="#e05ee0" stroke="#8e2a8e" stroke-width="0.75"/><circle cx="151.99" cy="308.80" r="1.6" fill="#e05ee0" stroke="#8e2a8e" stroke-width="0.75"/><circle cx="156.25" cy="307.50" r="1.6" fill="#e05ee0" stroke="#8e2a8e" stroke-width="0.75"/><circle cx="160.51" cy="307.00" r="1.6" fill="#e05ee0" stroke="#8e2a8e" stroke-width="0.75"/><circle cx="173.30" cy="301.80" r="1.6" fill="#e05ee0" stroke="#8e2a8e" stroke-width="0.75"/><circle cx="70.99" cy="329.20" r="1.6" fill="#3434e4" stroke="#16167a" stroke-width="0.75"/><circle cx="75.25" cy="322.30" r="1.6" fill="#3434e4" stroke="#16167a" stroke-width="0.75"/><circle cx="83.78" cy="325.30" r="1.6" fill="#3434e4" stroke="#16167a" stroke-width="0.75"/><circle cx="88.04" cy="328.30" r="1.6" fill="#3434e4" stroke="#16167a" stroke-width="0.75"/><circle cx="88.04" cy="330.00" r="1.6" fill="#3434e4" stroke="#16167a" stroke-width="0.75"/><circle cx="88.04" cy="331.40" r="1.6" fill="#3434e4" stroke="#16167a" stroke-width="0.75"/><circle cx="92.30" cy="315.70" r="1.6" fill="#3434e4" stroke="#16167a" stroke-width="0.75"/><circle cx="92.30" cy="318.20" r="1.6" fill="#3434e4" stroke="#16167a" stroke-width="0.75"/><circle cx="92.30" cy="330.00" r="1.6" fill="#3434e4" stroke="#16167a" stroke-width="0.75"/><circle cx="96.57" cy="329.60" r="1.6" fill="#3434e4" stroke="#16167a" stroke-width="0.75"/><circle cx="100.83" cy="309.70" r="1.6" fill="#3434e4" stroke="#16167a" stroke-width="0.75"/><circle cx="105.09" cy="308.80" r="1.6" fill="#3434e4" stroke="#16167a" stroke-width="0.75"/><circle cx="105.09" cy="333.30" r="1.6" fill="#3434e4" stroke="#16167a" stroke-width="0.75"/><circle cx="109.36" cy="316.30" r="1.6" fill="#3434e4" stroke="#16167a" stroke-width="0.75"/><circle cx="109.36" cy="320.10" r="1.6" fill="#3434e4" stroke="#16167a" stroke-width="0.75"/><circle cx="109.36" cy="327.20" r="1.6" fill="#3434e4" stroke="#16167a" stroke-width="0.75"/><circle cx="109.36" cy="330.20" r="1.6" fill="#3434e4" stroke="#16167a" stroke-width="0.75"/><circle cx="113.62" cy="324.70" r="1.6" fill="#3434e4" stroke="#16167a" stroke-width="0.75"/><circle cx="113.62" cy="329.20" r="1.6" fill="#3434e4" stroke="#16167a" stroke-width="0.75"/><circle cx="117.88" cy="323.40" r="1.6" fill="#3434e4" stroke="#16167a" stroke-width="0.75"/><circle cx="117.88" cy="327.80" r="1.6" fill="#3434e4" stroke="#16167a" stroke-width="0.75"/><circle cx="117.88" cy="330.80" r="1.6" fill="#3434e4" stroke="#16167a" stroke-width="0.75"/><circle cx="122.15" cy="304.20" r="1.6" fill="#3434e4" stroke="#16167a" stroke-width="0.75"/><circle cx="122.15" cy="312.40" r="1.6" fill="#3434e4" stroke="#16167a" stroke-width="0.75"/><circle cx="122.15" cy="320.70" r="1.6" fill="#3434e4" stroke="#16167a" stroke-width="0.75"/><circle cx="122.15" cy="329.30" r="1.6" fill="#3434e4" stroke="#16167a" stroke-width="0.75"/><circle cx="126.41" cy="315.70" r="1.6" fill="#3434e4" stroke="#16167a" stroke-width="0.75"/><circle cx="126.41" cy="319.00" r="1.6" fill="#3434e4" stroke="#16167a" stroke-width="0.75"/><circle cx="126.41" cy="324.70" r="1.6" fill="#3434e4" stroke="#16167a" stroke-width="0.75"/><circle cx="126.41" cy="329.40" r="1.6" fill="#3434e4" stroke="#16167a" stroke-width="0.75"/><circle cx="126.41" cy="331.30" r="1.6" fill="#3434e4" stroke="#16167a" stroke-width="0.75"/><circle cx="130.67" cy="323.80" r="1.6" fill="#3434e4" stroke="#16167a" stroke-width="0.75"/><circle cx="66.73" cy="339.90" r="1.6" fill="#3434e4" stroke="#16167a" stroke-width="0.75"/><circle cx="79.52" cy="346.80" r="1.6" fill="#3434e4" stroke="#16167a" stroke-width="0.75"/><circle cx="83.78" cy="335.90" r="1.6" fill="#3434e4" stroke="#16167a" stroke-width="0.75"/><circle cx="88.04" cy="337.30" r="1.6" fill="#3434e4" stroke="#16167a" stroke-width="0.75"/><circle cx="92.30" cy="336.40" r="1.6" fill="#3434e4" stroke="#16167a" stroke-width="0.75"/><circle cx="96.57" cy="339.50" r="1.6" fill="#3434e4" stroke="#16167a" stroke-width="0.75"/><circle cx="100.83" cy="339.50" r="1.6" fill="#3434e4" stroke="#16167a" stroke-width="0.75"/><circle cx="113.62" cy="336.20" r="1.6" fill="#3434e4" stroke="#16167a" stroke-width="0.75"/><circle cx="113.62" cy="339.20" r="1.6" fill="#3434e4" stroke="#16167a" stroke-width="0.75"/><circle cx="117.88" cy="341.40" r="1.6" fill="#3434e4" stroke="#16167a" stroke-width="0.75"/><circle cx="117.88" cy="343.90" r="1.6" fill="#3434e4" stroke="#16167a" stroke-width="0.75"/><circle cx="126.41" cy="339.20" r="1.6" fill="#3434e4" stroke="#16167a" stroke-width="0.75"/><circle cx="194.62" cy="296.80" r="1.6" fill="#3434e4" stroke="#16167a" stroke-width="0.75"/><circle cx="134.93" cy="306.20" r="1.6" fill="#3434e4" stroke="#16167a" stroke-width="0.75"/><circle cx="134.93" cy="318.50" r="1.6" fill="#3434e4" stroke="#16167a" stroke-width="0.75"/><circle cx="134.93" cy="322.80" r="1.6" fill="#3434e4" stroke="#16167a" stroke-width="0.75"/><circle cx="139.20" cy="309.70" r="1.6" fill="#3434e4" stroke="#16167a" stroke-width="0.75"/><circle cx="139.20" cy="311.40" r="1.6" fill="#3434e4" stroke="#16167a" stroke-width="0.75"/><circle cx="139.20" cy="323.60" r="1.6" fill="#3434e4" stroke="#16167a" stroke-width="0.75"/><circle cx="139.20" cy="328.20" r="1.6" fill="#3434e4" stroke="#16167a" stroke-width="0.75"/><circle cx="143.46" cy="330.00" r="1.6" fill="#3434e4" stroke="#16167a" stroke-width="0.75"/><circle cx="147.72" cy="322.00" r="1.6" fill="#3434e4" stroke="#16167a" stroke-width="0.75"/><circle cx="147.72" cy="335.80" r="1.6" fill="#3434e4" stroke="#16167a" stroke-width="0.75"/><circle cx="151.99" cy="316.10" r="1.6" fill="#3434e4" stroke="#16167a" stroke-width="0.75"/><circle cx="151.99" cy="339.90" r="1.6" fill="#3434e4" stroke="#16167a" stroke-width="0.75"/><circle cx="160.51" cy="320.30" r="1.6" fill="#3434e4" stroke="#16167a" stroke-width="0.75"/><circle cx="160.51" cy="327.30" r="1.6" fill="#3434e4" stroke="#16167a" stroke-width="0.75"/><circle cx="164.78" cy="332.70" r="1.6" fill="#3434e4" stroke="#16167a" stroke-width="0.75"/><circle cx="169.04" cy="317.90" r="1.6" fill="#3434e4" stroke="#16167a" stroke-width="0.75"/><circle cx="173.30" cy="317.60" r="1.6" fill="#3434e4" stroke="#16167a" stroke-width="0.75"/><circle cx="173.30" cy="329.50" r="1.6" fill="#3434e4" stroke="#16167a" stroke-width="0.75"/><circle cx="181.83" cy="321.50" r="1.6" fill="#3434e4" stroke="#16167a" stroke-width="0.75"/><circle cx="190.35" cy="336.00" r="1.6" fill="#3434e4" stroke="#16167a" stroke-width="0.75"/><circle cx="194.62" cy="343.20" r="1.6" fill="#3434e4" stroke="#16167a" stroke-width="0.75"/><circle cx="194.62" cy="297.80" r="1.6" fill="#e05ee0" stroke="#8e2a8e" stroke-width="0.75"/><line x1="70.99" y1="308.4" x2="194.62" y2="293.3" stroke="#c98ac9" stroke-width="0.9"/><line x1="66.73" y1="330.5" x2="194.62" y2="321.5" stroke="#45456f" stroke-width="0.75"/><path d="M58.20 247.90V362.10H207.40" fill="none" stroke="#141414" stroke-width="1.1"/><text class="tl" transform="translate(52.30,365.60) scale(0.92,1)" text-anchor="end">10</text><text class="tl" transform="translate(52.30,342.76) scale(0.92,1)" text-anchor="end">20</text><text class="tl" transform="translate(52.30,319.92) scale(0.92,1)" text-anchor="end">30</text><text class="tl" transform="translate(52.30,297.08) scale(0.92,1)" text-anchor="end">40</text><text class="tl" transform="translate(52.30,274.24) scale(0.92,1)" text-anchor="end">50</text><text class="tl" transform="translate(52.30,251.40) scale(0.92,1)" text-anchor="end">60</text><text class="tl" transform="translate(58.20,375.90) scale(0.92,1)" text-anchor="middle">50</text><text class="tl" transform="translate(100.83,375.90) scale(0.92,1)" text-anchor="middle">60</text><text class="tl" transform="translate(143.46,375.90) scale(0.92,1)" text-anchor="middle">70</text><text class="tl" transform="translate(186.09,375.90) scale(0.92,1)" text-anchor="middle">80</text><path d="M53.90 362.10H58.20M53.90 339.26H58.20M53.90 316.42H58.20M53.90 293.58H58.20M53.90 270.74H58.20M53.90 247.90H58.20M58.20 362.10V366.30M79.52 362.10V364.60M100.83 362.10V366.30M122.15 362.10V364.60M143.46 362.10V366.30M164.78 362.10V364.60M186.09 362.10V366.30M207.40 362.10V364.60" fill="none" stroke="#141414" stroke-width="1.1"/><text class="ti" x="135.3" y="234.0" text-anchor="middle">FAT%</text><text class="ti" x="132.80" y="389.10" text-anchor="middle" style="font-size:9.6px">Age</text><rect x="1.30" y="363.20" width="16.40" height="15.40" fill="none" stroke="#3a3a3a" stroke-width="1"/><text class="bx" x="9.10" y="375.80" text-anchor="middle">d</text><circle cx="346.56" cy="273.50" r="1.6" fill="#e05ee0" stroke="#8e2a8e" stroke-width="0.75"/><circle cx="350.82" cy="278.20" r="1.6" fill="#e05ee0" stroke="#8e2a8e" stroke-width="0.75"/><circle cx="338.03" cy="281.90" r="1.6" fill="#e05ee0" stroke="#8e2a8e" stroke-width="0.75"/><circle cx="338.03" cy="287.70" r="1.6" fill="#e05ee0" stroke="#8e2a8e" stroke-width="0.75"/><circle cx="338.03" cy="300.50" r="1.6" fill="#e05ee0" stroke="#8e2a8e" stroke-width="0.75"/><circle cx="342.29" cy="293.20" r="1.6" fill="#e05ee0" stroke="#8e2a8e" stroke-width="0.75"/><circle cx="342.29" cy="305.30" r="1.6" fill="#e05ee0" stroke="#8e2a8e" stroke-width="0.75"/><circle cx="355.08" cy="299.20" r="1.6" fill="#e05ee0" stroke="#8e2a8e" stroke-width="0.75"/><circle cx="359.34" cy="299.20" r="1.6" fill="#e05ee0" stroke="#8e2a8e" stroke-width="0.75"/><circle cx="363.61" cy="303.30" r="1.6" fill="#e05ee0" stroke="#8e2a8e" stroke-width="0.75"/><circle cx="308.19" cy="325.80" r="1.6" fill="#e05ee0" stroke="#8e2a8e" stroke-width="0.75"/><circle cx="308.19" cy="328.70" r="1.6" fill="#e05ee0" stroke="#8e2a8e" stroke-width="0.75"/><circle cx="312.45" cy="314.20" r="1.6" fill="#e05ee0" stroke="#8e2a8e" stroke-width="0.75"/><circle cx="312.45" cy="327.30" r="1.6" fill="#e05ee0" stroke="#8e2a8e" stroke-width="0.75"/><circle cx="316.71" cy="330.60" r="1.6" fill="#e05ee0" stroke="#8e2a8e" stroke-width="0.75"/><circle cx="320.98" cy="326.80" r="1.6" fill="#e05ee0" stroke="#8e2a8e" stroke-width="0.75"/><circle cx="325.24" cy="316.90" r="1.6" fill="#e05ee0" stroke="#8e2a8e" stroke-width="0.75"/><circle cx="325.24" cy="318.90" r="1.6" fill="#e05ee0" stroke="#8e2a8e" stroke-width="0.75"/><circle cx="325.24" cy="321.30" r="1.6" fill="#e05ee0" stroke="#8e2a8e" stroke-width="0.75"/><circle cx="333.77" cy="318.50" r="1.6" fill="#e05ee0" stroke="#8e2a8e" stroke-width="0.75"/><circle cx="333.77" cy="321.80" r="1.6" fill="#e05ee0" stroke="#8e2a8e" stroke-width="0.75"/><circle cx="333.77" cy="330.90" r="1.6" fill="#e05ee0" stroke="#8e2a8e" stroke-width="0.75"/><circle cx="338.03" cy="316.40" r="1.6" fill="#e05ee0" stroke="#8e2a8e" stroke-width="0.75"/><circle cx="342.29" cy="317.40" r="1.6" fill="#e05ee0" stroke="#8e2a8e" stroke-width="0.75"/><circle cx="346.56" cy="321.80" r="1.6" fill="#e05ee0" stroke="#8e2a8e" stroke-width="0.75"/><circle cx="346.56" cy="336.00" r="1.6" fill="#e05ee0" stroke="#8e2a8e" stroke-width="0.75"/><circle cx="355.08" cy="308.70" r="1.6" fill="#e05ee0" stroke="#8e2a8e" stroke-width="0.75"/><circle cx="355.08" cy="318.00" r="1.6" fill="#e05ee0" stroke="#8e2a8e" stroke-width="0.75"/><circle cx="359.34" cy="309.80" r="1.6" fill="#e05ee0" stroke="#8e2a8e" stroke-width="0.75"/><circle cx="359.34" cy="318.00" r="1.6" fill="#e05ee0" stroke="#8e2a8e" stroke-width="0.75"/><circle cx="359.34" cy="322.60" r="1.6" fill="#e05ee0" stroke="#8e2a8e" stroke-width="0.75"/><circle cx="359.34" cy="341.00" r="1.6" fill="#e05ee0" stroke="#8e2a8e" stroke-width="0.75"/><circle cx="367.87" cy="320.10" r="1.6" fill="#e05ee0" stroke="#8e2a8e" stroke-width="0.75"/><circle cx="401.97" cy="265.80" r="1.6" fill="#e05ee0" stroke="#8e2a8e" stroke-width="0.75"/><circle cx="410.50" cy="289.60" r="1.6" fill="#e05ee0" stroke="#8e2a8e" stroke-width="0.75"/><circle cx="372.13" cy="292.10" r="1.6" fill="#e05ee0" stroke="#8e2a8e" stroke-width="0.75"/><circle cx="384.92" cy="293.80" r="1.6" fill="#e05ee0" stroke="#8e2a8e" stroke-width="0.75"/><circle cx="380.66" cy="302.20" r="1.6" fill="#e05ee0" stroke="#8e2a8e" stroke-width="0.75"/><circle cx="393.45" cy="301.50" r="1.6" fill="#e05ee0" stroke="#8e2a8e" stroke-width="0.75"/><circle cx="406.24" cy="299.20" r="1.6" fill="#e05ee0" stroke="#8e2a8e" stroke-width="0.75"/><circle cx="372.13" cy="306.80" r="1.6" fill="#e05ee0" stroke="#8e2a8e" stroke-width="0.75"/><circle cx="372.13" cy="310.10" r="1.6" fill="#e05ee0" stroke="#8e2a8e" stroke-width="0.75"/><circle cx="376.40" cy="327.30" r="1.6" fill="#e05ee0" stroke="#8e2a8e" stroke-width="0.75"/><circle cx="380.66" cy="324.00" r="1.6" fill="#e05ee0" stroke="#8e2a8e" stroke-width="0.75"/><circle cx="389.19" cy="318.20" r="1.6" fill="#e05ee0" stroke="#8e2a8e" stroke-width="0.75"/><circle cx="393.45" cy="313.60" r="1.6" fill="#e05ee0" stroke="#8e2a8e" stroke-width="0.75"/><circle cx="393.45" cy="319.30" r="1.6" fill="#e05ee0" stroke="#8e2a8e" stroke-width="0.75"/><circle cx="393.45" cy="322.90" r="1.6" fill="#e05ee0" stroke="#8e2a8e" stroke-width="0.75"/><circle cx="397.71" cy="315.60" r="1.6" fill="#e05ee0" stroke="#8e2a8e" stroke-width="0.75"/><circle cx="397.71" cy="318.90" r="1.6" fill="#e05ee0" stroke="#8e2a8e" stroke-width="0.75"/><circle cx="406.24" cy="315.30" r="1.6" fill="#e05ee0" stroke="#8e2a8e" stroke-width="0.75"/><circle cx="414.76" cy="313.80" r="1.6" fill="#e05ee0" stroke="#8e2a8e" stroke-width="0.75"/><circle cx="431.82" cy="312.70" r="1.6" fill="#e05ee0" stroke="#8e2a8e" stroke-width="0.75"/><circle cx="342.29" cy="271.30" r="1.6" fill="#3434e4" stroke="#16167a" stroke-width="0.75"/><circle cx="342.29" cy="274.30" r="1.6" fill="#3434e4" stroke="#16167a" stroke-width="0.75"/><circle cx="329.50" cy="306.30" r="1.6" fill="#3434e4" stroke="#16167a" stroke-width="0.75"/><circle cx="333.77" cy="300.20" r="1.6" fill="#3434e4" stroke="#16167a" stroke-width="0.75"/><circle cx="338.03" cy="301.20" r="1.6" fill="#3434e4" stroke="#16167a" stroke-width="0.75"/><circle cx="350.82" cy="302.40" r="1.6" fill="#3434e4" stroke="#16167a" stroke-width="0.75"/><circle cx="355.08" cy="293.20" r="1.6" fill="#3434e4" stroke="#16167a" stroke-width="0.75"/><circle cx="359.34" cy="290.50" r="1.6" fill="#3434e4" stroke="#16167a" stroke-width="0.75"/><circle cx="359.34" cy="295.90" r="1.6" fill="#3434e4" stroke="#16167a" stroke-width="0.75"/><circle cx="359.34" cy="302.10" r="1.6" fill="#3434e4" stroke="#16167a" stroke-width="0.75"/><circle cx="363.61" cy="294.00" r="1.6" fill="#3434e4" stroke="#16167a" stroke-width="0.75"/><circle cx="363.61" cy="296.50" r="1.6" fill="#3434e4" stroke="#16167a" stroke-width="0.75"/><circle cx="363.61" cy="299.00" r="1.6" fill="#3434e4" stroke="#16167a" stroke-width="0.75"/><circle cx="363.61" cy="307.30" r="1.6" fill="#3434e4" stroke="#16167a" stroke-width="0.75"/><circle cx="303.93" cy="312.50" r="1.6" fill="#3434e4" stroke="#16167a" stroke-width="0.75"/><circle cx="308.19" cy="312.50" r="1.6" fill="#3434e4" stroke="#16167a" stroke-width="0.75"/><circle cx="312.45" cy="320.70" r="1.6" fill="#3434e4" stroke="#16167a" stroke-width="0.75"/><circle cx="316.71" cy="320.40" r="1.6" fill="#3434e4" stroke="#16167a" stroke-width="0.75"/><circle cx="320.98" cy="316.40" r="1.6" fill="#3434e4" stroke="#16167a" stroke-width="0.75"/><circle cx="320.98" cy="321.30" r="1.6" fill="#3434e4" stroke="#16167a" stroke-width="0.75"/><circle cx="325.24" cy="309.20" r="1.6" fill="#3434e4" stroke="#16167a" stroke-width="0.75"/><circle cx="325.24" cy="310.90" r="1.6" fill="#3434e4" stroke="#16167a" stroke-width="0.75"/><circle cx="325.24" cy="313.10" r="1.6" fill="#3434e4" stroke="#16167a" stroke-width="0.75"/><circle cx="329.50" cy="314.90" r="1.6" fill="#3434e4" stroke="#16167a" stroke-width="0.75"/><circle cx="329.50" cy="320.20" r="1.6" fill="#3434e4" stroke="#16167a" stroke-width="0.75"/><circle cx="329.50" cy="323.20" r="1.6" fill="#3434e4" stroke="#16167a" stroke-width="0.75"/><circle cx="338.03" cy="310.90" r="1.6" fill="#3434e4" stroke="#16167a" stroke-width="0.75"/><circle cx="342.29" cy="321.10" r="1.6" fill="#3434e4" stroke="#16167a" stroke-width="0.75"/><circle cx="346.56" cy="308.70" r="1.6" fill="#3434e4" stroke="#16167a" stroke-width="0.75"/><circle cx="346.56" cy="309.80" r="1.6" fill="#3434e4" stroke="#16167a" stroke-width="0.75"/><circle cx="346.56" cy="320.40" r="1.6" fill="#3434e4" stroke="#16167a" stroke-width="0.75"/><circle cx="350.82" cy="314.70" r="1.6" fill="#3434e4" stroke="#16167a" stroke-width="0.75"/><circle cx="350.82" cy="316.90" r="1.6" fill="#3434e4" stroke="#16167a" stroke-width="0.75"/><circle cx="350.82" cy="318.90" r="1.6" fill="#3434e4" stroke="#16167a" stroke-width="0.75"/><circle cx="355.08" cy="312.00" r="1.6" fill="#3434e4" stroke="#16167a" stroke-width="0.75"/><circle cx="355.08" cy="313.60" r="1.6" fill="#3434e4" stroke="#16167a" stroke-width="0.75"/><circle cx="355.08" cy="315.80" r="1.6" fill="#3434e4" stroke="#16167a" stroke-width="0.75"/><circle cx="355.08" cy="320.70" r="1.6" fill="#3434e4" stroke="#16167a" stroke-width="0.75"/><circle cx="363.61" cy="309.20" r="1.6" fill="#3434e4" stroke="#16167a" stroke-width="0.75"/><circle cx="363.61" cy="311.40" r="1.6" fill="#3434e4" stroke="#16167a" stroke-width="0.75"/><circle cx="363.61" cy="316.40" r="1.6" fill="#3434e4" stroke="#16167a" stroke-width="0.75"/><circle cx="363.61" cy="318.20" r="1.6" fill="#3434e4" stroke="#16167a" stroke-width="0.75"/><circle cx="367.87" cy="312.50" r="1.6" fill="#3434e4" stroke="#16167a" stroke-width="0.75"/><circle cx="431.82" cy="288.30" r="1.6" fill="#3434e4" stroke="#16167a" stroke-width="0.75"/><circle cx="376.40" cy="293.20" r="1.6" fill="#3434e4" stroke="#16167a" stroke-width="0.75"/><circle cx="372.13" cy="295.80" r="1.6" fill="#3434e4" stroke="#16167a" stroke-width="0.75"/><circle cx="372.13" cy="302.30" r="1.6" fill="#3434e4" stroke="#16167a" stroke-width="0.75"/><circle cx="384.92" cy="303.40" r="1.6" fill="#3434e4" stroke="#16167a" stroke-width="0.75"/><circle cx="389.19" cy="305.00" r="1.6" fill="#3434e4" stroke="#16167a" stroke-width="0.75"/><circle cx="410.50" cy="304.60" r="1.6" fill="#3434e4" stroke="#16167a" stroke-width="0.75"/><circle cx="376.40" cy="310.90" r="1.6" fill="#3434e4" stroke="#16167a" stroke-width="0.75"/><circle cx="376.40" cy="313.10" r="1.6" fill="#3434e4" stroke="#16167a" stroke-width="0.75"/><circle cx="376.40" cy="315.60" r="1.6" fill="#3434e4" stroke="#16167a" stroke-width="0.75"/><circle cx="380.66" cy="315.30" r="1.6" fill="#3434e4" stroke="#16167a" stroke-width="0.75"/><circle cx="384.92" cy="311.60" r="1.6" fill="#3434e4" stroke="#16167a" stroke-width="0.75"/><circle cx="389.19" cy="324.00" r="1.6" fill="#3434e4" stroke="#16167a" stroke-width="0.75"/><circle cx="397.71" cy="308.70" r="1.6" fill="#3434e4" stroke="#16167a" stroke-width="0.75"/><circle cx="397.71" cy="312.30" r="1.6" fill="#3434e4" stroke="#16167a" stroke-width="0.75"/><circle cx="401.97" cy="330.00" r="1.6" fill="#3434e4" stroke="#16167a" stroke-width="0.75"/><circle cx="406.24" cy="312.00" r="1.6" fill="#3434e4" stroke="#16167a" stroke-width="0.75"/><circle cx="410.50" cy="316.70" r="1.6" fill="#3434e4" stroke="#16167a" stroke-width="0.75"/><circle cx="419.03" cy="312.30" r="1.6" fill="#3434e4" stroke="#16167a" stroke-width="0.75"/><circle cx="427.55" cy="309.80" r="1.6" fill="#3434e4" stroke="#16167a" stroke-width="0.75"/><circle cx="431.82" cy="323.70" r="1.6" fill="#3434e4" stroke="#16167a" stroke-width="0.75"/><line x1="308.19" y1="316.5" x2="431.82" y2="304.0" stroke="#c98ac9" stroke-width="0.9"/><line x1="303.93" y1="312.3" x2="431.82" y2="307.3" stroke="#45456f" stroke-width="0.75"/><path d="M295.40 247.90V361.70H444.60" fill="none" stroke="#141414" stroke-width="1.1"/><text class="tl" transform="translate(289.50,365.20) scale(0.92,1)" text-anchor="end">10</text><text class="tl" transform="translate(289.50,327.27) scale(0.92,1)" text-anchor="end">20</text><text class="tl" transform="translate(289.50,289.33) scale(0.92,1)" text-anchor="end">30</text><text class="tl" transform="translate(289.50,251.40) scale(0.92,1)" text-anchor="end">40</text><text class="tl" transform="translate(295.40,375.50) scale(0.92,1)" text-anchor="middle">50</text><text class="tl" transform="translate(338.03,375.50) scale(0.92,1)" text-anchor="middle">60</text><text class="tl" transform="translate(380.66,375.50) scale(0.92,1)" text-anchor="middle">70</text><text class="tl" transform="translate(423.29,375.50) scale(0.92,1)" text-anchor="middle">80</text><path d="M291.10 361.70H295.40M291.10 323.77H295.40M291.10 285.83H295.40M291.10 247.90H295.40M295.40 361.70V365.90M316.71 361.70V364.20M338.03 361.70V365.90M359.34 361.70V364.20M380.66 361.70V365.90M401.97 361.70V364.20M423.29 361.70V365.90M444.60 361.70V364.20" fill="none" stroke="#141414" stroke-width="1.1"/><text class="ti" x="370" y="234.0" text-anchor="middle">BMI</text><text class="ti" x="370.00" y="388.70" text-anchor="middle" style="font-size:9.6px">Age</text><rect x="248.20" y="363.60" width="16.40" height="15.00" fill="none" stroke="#3a3a3a" stroke-width="1"/><text class="bx" x="256.20" y="374.60" text-anchor="middle">e</text><text class="ti" transform="translate(18.1,80.6) rotate(-90) scale(1,1.15)" text-anchor="middle" style="font-size:8.2px">mm<tspan dy="-4.2" style="font-size:5.5px">2</tspan></text><text class="ti" transform="translate(265.3,78.9) rotate(-90)" text-anchor="middle" style="font-size:10px">%</text><text class="ti" transform="translate(504.0,70.8) rotate(-90)" text-anchor="middle" style="font-size:9.5px">kg/m<tspan dy="-4.3" style="font-size:5.5px">2</tspan></text><text class="ti" transform="translate(28.4,304.6) rotate(-90)" text-anchor="middle" style="font-size:10px">%</text><text class="ti" transform="translate(268.3,304.2) rotate(-90)" text-anchor="middle" style="font-size:9.5px">kg/m<tspan dy="-4.3" style="font-size:5.5px">2</tspan></text><line x1="81.1" y1="174.5" x2="92.0" y2="174.5" stroke="#d995d9" stroke-width="1"/><circle cx="86.6" cy="174.10" r="1.6" fill="#e05ee0" stroke="#8e2a8e" stroke-width="0.75"/><text class="lg" x="98.6" y="176.80">F:</text><text class="lg" x="113.9" y="176.80">p = 0.949; r = 0.01</text><line x1="81.1" y1="188.5" x2="92.0" y2="188.5" stroke="#3d3d80" stroke-width="1"/><circle cx="86.6" cy="188.40" r="1.6" fill="#3434e4" stroke="#16167a" stroke-width="0.75"/><text class="lg" x="98.6" y="191.10">M:</text><text class="lg" x="113.2" y="191.10">p = 0.256; r = - 0.13</text><line x1="319.1" y1="174.5" x2="329.8" y2="174.5" stroke="#d995d9" stroke-width="1"/><circle cx="324.7" cy="174.40" r="1.6" fill="#e05ee0" stroke="#8e2a8e" stroke-width="0.75"/><text class="lg" x="336.3" y="177.10">F:</text><text class="lg" x="351.2" y="177.10">p = 0.012; <tspan font-style="italic" style="font-size:10px">ρ</tspan>= 0.31</text><line x1="317.9" y1="189.5" x2="328.4" y2="189.5" stroke="#3d3d80" stroke-width="1"/><circle cx="323.1" cy="188.80" r="1.6" fill="#3434e4" stroke="#16167a" stroke-width="0.75"/><text class="lg" x="334.5" y="191.50">M:</text><text class="lg" x="351.2" y="191.50">p = 0.066; <tspan font-style="italic" style="font-size:10px">ρ</tspan>= 0.21</text><line x1="557.3" y1="175.5" x2="568.5" y2="175.5" stroke="#d995d9" stroke-width="1"/><circle cx="563.0" cy="174.70" r="1.6" fill="#e05ee0" stroke="#8e2a8e" stroke-width="0.75"/><text class="lg" x="575.3" y="177.40">F:</text><text class="lg" x="590.0" y="177.40">p = 0.521; <tspan font-style="italic" style="font-size:10px">ρ</tspan>= 0.08</text><line x1="557.3" y1="189.5" x2="568.5" y2="189.5" stroke="#3d3d80" stroke-width="1"/><circle cx="563.0" cy="188.60" r="1.6" fill="#3434e4" stroke="#16167a" stroke-width="0.75"/><text class="lg" x="574.6" y="191.30">M:</text><text class="lg" x="589.6" y="191.30">p = 0.896; <tspan font-style="italic" style="font-size:10px">ρ</tspan>= - 0.02</text><line x1="81.7" y1="400.5" x2="92.5" y2="400.5" stroke="#d995d9" stroke-width="1"/><circle cx="87.3" cy="399.80" r="1.6" fill="#e05ee0" stroke="#8e2a8e" stroke-width="0.75"/><text class="lg" x="99.2" y="402.50">F:</text><text class="lg" x="113.5" y="402.50">p = 0.056; <tspan font-style="italic" style="font-size:10px">ρ</tspan>= 0.23</text><line x1="81.7" y1="414.5" x2="92.5" y2="414.5" stroke="#3d3d80" stroke-width="1"/><circle cx="87.3" cy="413.80" r="1.6" fill="#3434e4" stroke="#16167a" stroke-width="0.75"/><text class="lg" x="99.2" y="416.50">M:</text><text class="lg" x="113.2" y="416.50">p = 0.075; r = 0.21</text><line x1="319.1" y1="400.5" x2="330.1" y2="400.5" stroke="#d995d9" stroke-width="1"/><circle cx="324.7" cy="399.80" r="1.6" fill="#e05ee0" stroke="#8e2a8e" stroke-width="0.75"/><text class="lg" x="336.6" y="402.50">F:</text><text class="lg" x="349.9" y="402.50">p = 0.015; <tspan font-style="italic" style="font-size:10px">ρ</tspan>= 0.30</text><line x1="319.1" y1="414.5" x2="330.1" y2="414.5" stroke="#3d3d80" stroke-width="1"/><circle cx="324.7" cy="413.80" r="1.6" fill="#3434e4" stroke="#16167a" stroke-width="0.75"/><text class="lg" x="336.3" y="416.50">M:</text><text class="lg" x="349.9" y="416.50">p = 0.112; <tspan font-style="italic" style="font-size:10px">ρ</tspan>= 0.19</text></svg></body></html>
